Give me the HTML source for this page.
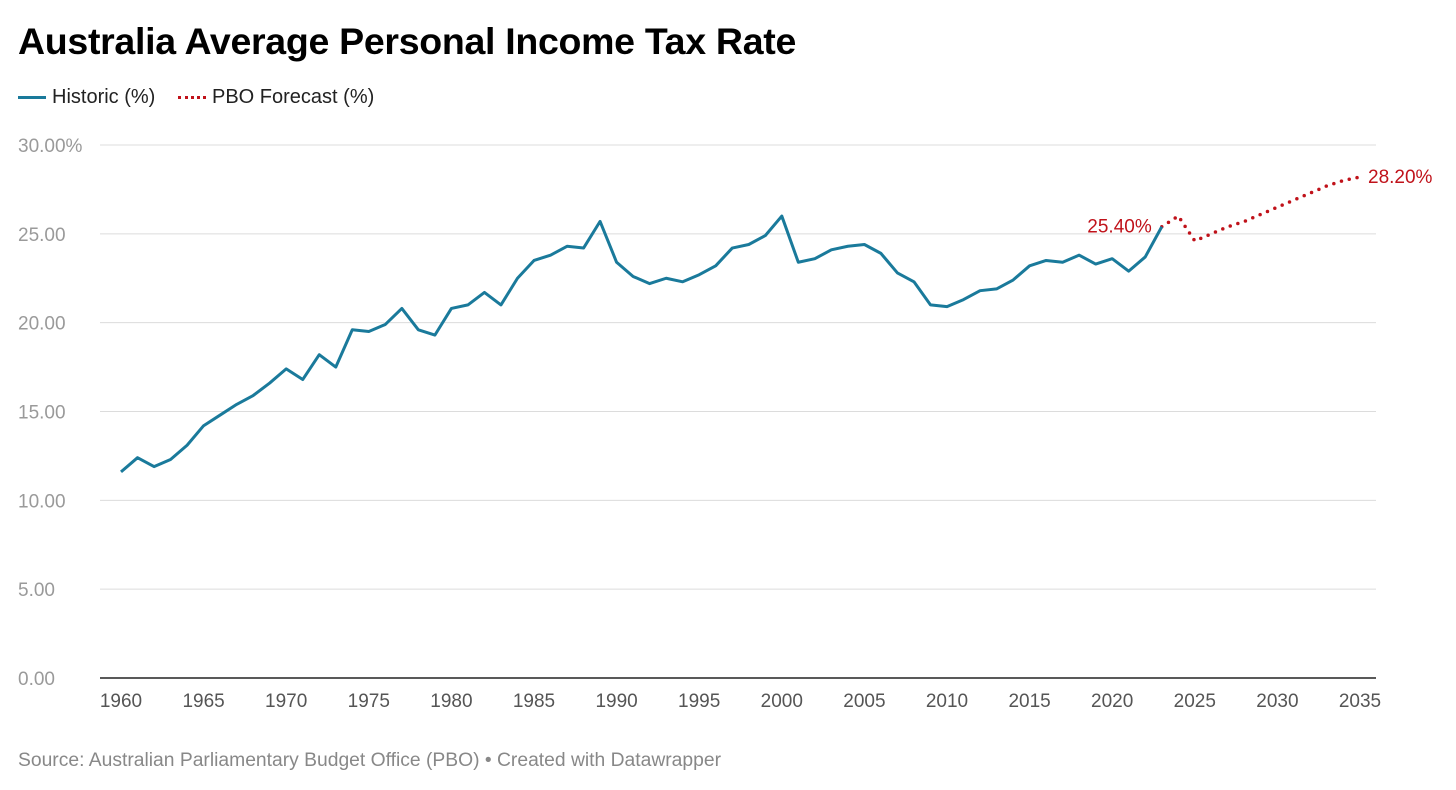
<!DOCTYPE html>
<html><head><meta charset="utf-8"><style>
body{margin:0;background:#fff;font-family:"Liberation Sans",Arial,sans-serif;}
#wrap{position:relative;width:1456px;height:790px;overflow:hidden;}
h1{position:absolute;left:18px;top:20px;margin:0;font-size:37.5px;font-weight:bold;color:#000;letter-spacing:-0.3px;}
.legend{position:absolute;top:86px;font-size:20px;color:#222;display:flex;align-items:center;}
.src{position:absolute;left:18px;top:750px;font-size:19.3px;color:#888;}
</style></head><body>
<div id="wrap">
<h1>Australia Average Personal Income Tax Rate</h1>
<div class="legend" style="left:18px"><span style="display:inline-block;width:28px;height:3px;background:#1a7a9b;margin-right:6px"></span>Historic (%)</div>
<div class="legend" style="left:178px"><span style="display:inline-block;width:28px;border-top:3px dotted #c0121a;margin-right:6px"></span>PBO Forecast (%)</div>
<svg id="chart" width="1456" height="790" style="position:absolute;left:0;top:0"></svg>
<div class="src">Source: Australian Parliamentary Budget Office (PBO) • Created with Datawrapper</div>
</div>
<script>
const histYears=[1960,1961,1962,1963,1964,1965,1966,1967,1968,1969,1970,1971,1972,1973,1974,1975,1976,1977,1978,1979,1980,1981,1982,1983,1984,1985,1986,1987,1988,1989,1990,1991,1992,1993,1994,1995,1996,1997,1998,1999,2000,2001,2002,2003,2004,2005,2006,2007,2008,2009,2010,2011,2012,2013,2014,2015,2016,2017,2018,2019,2020,2021,2022,2023];
const histValues=[11.6,12.4,11.9,12.3,13.1,14.2,14.8,15.4,15.9,16.6,17.4,16.8,18.2,17.5,19.6,19.5,19.9,20.8,19.6,19.3,20.8,21.0,21.7,21.0,22.5,23.5,23.8,24.3,24.2,25.7,23.4,22.6,22.2,22.5,22.3,22.7,23.2,24.2,24.4,24.9,26.0,23.4,23.6,24.1,24.3,24.4,23.9,22.8,22.3,21.0,20.9,21.3,21.8,21.9,22.4,23.2,23.5,23.4,23.8,23.3,23.6,22.9,23.7,25.4];
const fcYears=[2023,2024,2025,2026,2027,2028,2029,2030,2031,2032,2033,2034,2035];
const fcValues=[25.4,26.0,24.6,25.0,25.4,25.7,26.1,26.5,26.9,27.3,27.7,28.0,28.2];
const yTicks=[0,5,10,15,20,25,30];
const yTickLabels=["0.00","5.00","10.00","15.00","20.00","25.00","30.00%"];
const xTicks=[1960,1965,1970,1975,1980,1985,1990,1995,2000,2005,2010,2015,2020,2025,2030,2035];

const NS="http://www.w3.org/2000/svg";
const svg=document.getElementById('chart');
const X=y=>121+(y-1960)*(1360-121)/75;
const Y=v=>678-v*(678-145)/30;
function mk(t,a){const e=document.createElementNS(NS,t);for(const k in a)e.setAttribute(k,a[k]);svg.appendChild(e);return e;}
yTicks.forEach((v,i)=>{
  if(v>0){const g=mk('line',{x1:100,x2:1376,y1:Y(v),y2:Y(v),stroke:'#dcdcdc','stroke-width':1});
  
  }
  const t=mk('text',{x:18,y:Y(v)+7,fill:'#9a9a9a','font-size':19,'font-family':'Liberation Sans, sans-serif'});
  t.textContent=yTickLabels[i];
  
  
});
const ax=mk('line',{x1:100,x2:1376,y1:Y(0),y2:Y(0),stroke:'#222','stroke-width':1.5});


xTicks.forEach(v=>{
  const t=mk('text',{x:X(v),y:707,fill:'#555','font-size':19,'text-anchor':'middle','font-family':'Liberation Sans, sans-serif'});
  t.textContent=v;
  
  
});
const fp=mk('polyline',{points:fcYears.map((y,i)=>X(y)+','+Y(fcValues[i])).join(' '),fill:'none',stroke:'#c0121a','stroke-width':3.5,'stroke-dasharray':'0 8','stroke-linecap':'round','stroke-linejoin':'round'});


const hp=mk('polyline',{points:histYears.map((y,i)=>X(y)+','+Y(histValues[i])).join(' '),fill:'none',stroke:'#1a7a9b','stroke-width':3,'stroke-linejoin':'round'});


const hl=histValues.length-1;
const l1=mk('text',{x:X(histYears[hl])-10,y:Y(histValues[hl])+6,fill:'#c0121a','font-size':19,'text-anchor':'end','font-family':'Liberation Sans, sans-serif'});
l1.textContent=histValues[hl].toFixed(2)+'%';


const fl=fcValues.length-1;
const l2=mk('text',{x:X(fcYears[fl])+8,y:Y(fcValues[fl])+6,fill:'#c0121a','font-size':19,'font-family':'Liberation Sans, sans-serif'});
l2.textContent=fcValues[fl].toFixed(2)+'%';


</script>
</body></html>
